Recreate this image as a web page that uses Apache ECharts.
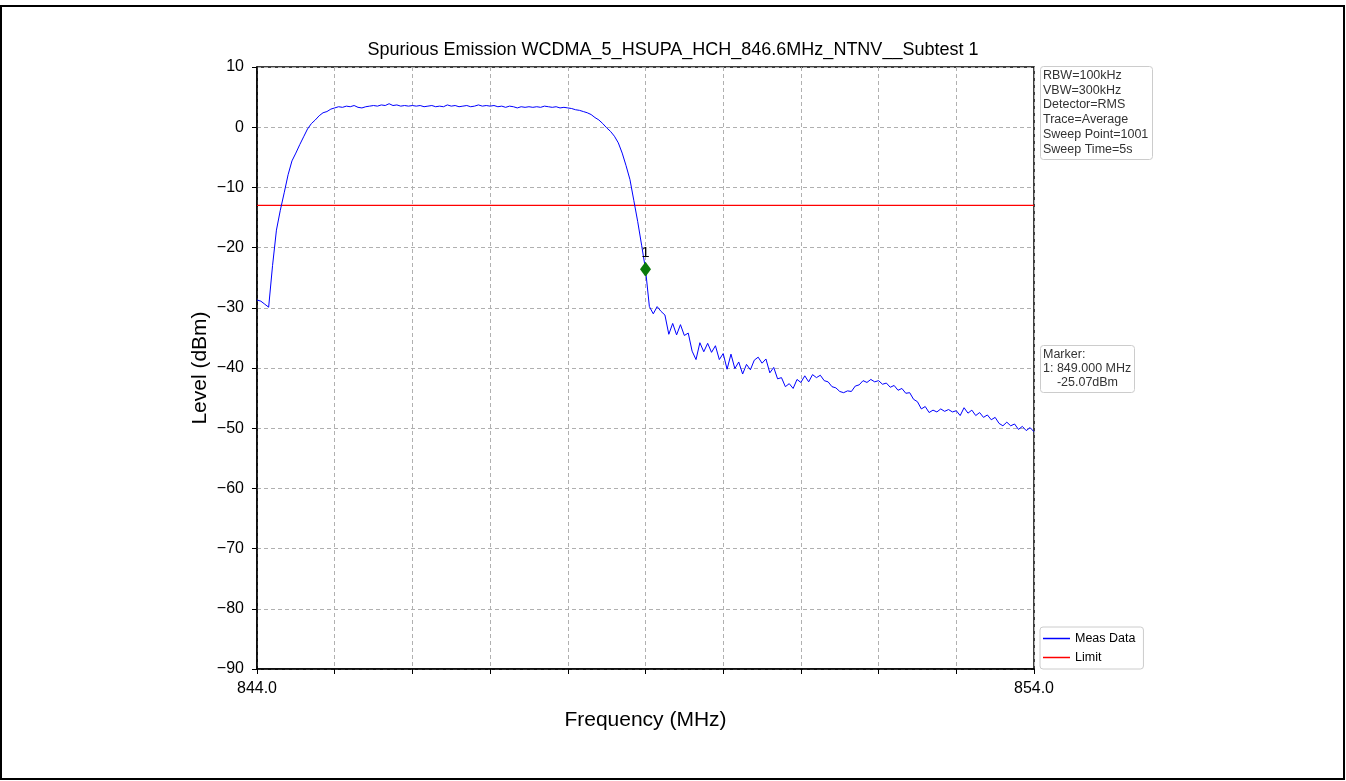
<!DOCTYPE html>
<html>
<head>
<meta charset="utf-8">
<script src="https://cdn.jsdelivr.net/npm/echarts@6/dist/echarts.min.js"></script>
<style>
html,body{margin:0;padding:0;background:#fff;}
#chart{width:1346px;height:781px;}
</style>
</head>
<body>
<div id="chart"></div>
<script>
// ---- data ----
const chartTitle = 'Spurious Emission WCDMA_5_HSUPA_HCH_846.6MHz_NTNV__Subtest 1';
const sweepStart = 844.0;   // MHz
const sweepStep = 0.05;     // MHz between read points
const measLevels = [
 -28.7,-28.9,-29.4,-29.9,-23.0,-17.1,-13.8,-10.9,-7.9,-5.6,
 -4.3,-2.9,-1.6,-0.3,0.6,1.2,1.9,2.4,2.6,3.0,
 3.2,3.4,3.3,3.5,3.4,3.6,3.3,3.2,3.4,3.5,
 3.6,3.5,3.7,3.6,3.9,3.6,3.7,3.5,3.6,3.5,
 3.6,3.5,3.6,3.4,3.5,3.6,3.4,3.5,3.4,3.7,
 3.5,3.6,3.4,3.5,3.6,3.4,3.5,3.7,3.5,3.6,
 3.5,3.6,3.4,3.5,3.3,3.5,3.4,3.2,3.4,3.3,
 3.4,3.3,3.4,3.3,3.5,3.4,3.3,3.4,3.2,3.3,
 3.2,3.1,2.9,2.8,2.6,2.4,2.1,1.6,1.2,0.6,
 -0.1,-0.7,-1.5,-2.6,-4.3,-6.4,-8.7,-12.2,-15.7,-19.6,
 -23.6,
 -29.8,-31.0,-29.8,-30.6,-31.2,-34.4,-32.6,-34.5,-32.8,-34.6,
 -34.2,-37.2,-38.6,-35.8,-37.3,-35.9,-37.4,-36.3,-38.6,-37.6,
 -40.2,-37.7,-40.1,-39.0,-41.0,-39.4,-40.3,-38.7,-38.2,-39.2,
 -38.5,-40.8,-39.9,-41.8,-41.6,-43.1,-42.6,-43.4,-41.9,-42.4,
 -41.3,-42.3,-41.1,-41.6,-41.2,-42.1,-42.3,-43.1,-43.3,-43.9,
 -44.1,-43.8,-43.9,-43.0,-42.8,-42.1,-42.4,-41.9,-42.3,-42.1,
 -42.7,-42.5,-43.2,-42.9,-43.7,-43.4,-44.2,-44.1,-45.2,-45.6,
 -46.8,-46.4,-47.4,-47.0,-47.3,-46.8,-47.2,-46.9,-47.3,-47.1,
 -47.9,-46.6,-47.5,-47.0,-47.9,-47.4,-48.2,-47.8,-48.6,-48.2,
 -49.2,-49.6,-49.0,-49.6,-49.3,-50.2,-49.7,-50.4,-49.9,-50.6
];
const limitLevel = -13;
const limitRange = [844.0, 854.0];
const markerFreq = 849.0;
const markerLevel = -23.6;
const markerLabel = '1';
const xTickLabels = {844: '844.0', 854: '854.0'};
const settingsText = ['RBW=100kHz', 'VBW=300kHz', 'Detector=RMS', 'Trace=Average', 'Sweep Point=1001', 'Sweep Time=5s'];
const markerText = ['Marker:', '1: 849.000 MHz', '    -25.07dBm'];
const legendNames = ['Meas Data', 'Limit'];

// ---- build ----
const measData = measLevels.map((v, i) => [+(sweepStart + i * sweepStep).toFixed(3), v]);
const limitData = limitRange.map(f => [f, limitLevel]);
const FONT = 'Liberation Sans, Arial, sans-serif';

const chart = echarts.init(document.getElementById('chart'), null, {renderer: 'canvas'});
chart.setOption({
  animation: false,
  backgroundColor: '#fff',
  title: [
    {text: chartTitle, left: 'center', top: 36, textStyle: {fontFamily: FONT, fontSize: 18, fontWeight: 'normal', color: '#000'}},
    {text: settingsText.join('\n'), left: 1040, top: 66, padding: [2, 4, 3, 3],
     borderColor: '#cccccc', borderWidth: 1, borderRadius: 3, backgroundColor: '#fff',
     textStyle: {fontFamily: FONT, fontSize: 12.5, fontWeight: 'normal', color: '#333', lineHeight: 14.8}},
    {text: markerText.join('\n'), left: 1040, top: 345, padding: [2, 4, 3, 3],
     borderColor: '#cccccc', borderWidth: 1, borderRadius: 3, backgroundColor: '#fff',
     textStyle: {fontFamily: FONT, fontSize: 12.5, fontWeight: 'normal', color: '#333', lineHeight: 14.2}}
  ],
  legend: {
    orient: 'vertical', left: 1040, top: 627,
    data: legendNames, icon: 'rect', itemWidth: 27, itemHeight: 1.5, itemGap: 6,
    padding: [5, 8, 5, 3], borderColor: '#cccccc', borderWidth: 1, borderRadius: 3,
    textStyle: {fontFamily: FONT, fontSize: 12.5, color: '#000'}
  },
  grid: {left: 257, right: 312, top: 67, bottom: 112, show: true, borderColor: '#000', borderWidth: 1.5, backgroundColor: 'transparent'},
  xAxis: {
    type: 'value', min: 844, max: 854, interval: 1,
    name: 'Frequency (MHz)', nameLocation: 'middle', nameGap: 41, nameMoveOverlap: false,
    nameTextStyle: {fontFamily: FONT, fontSize: 21, color: '#000'},
    axisLine: {onZero: false, lineStyle: {color: '#000', width: 1.5}},
    axisTick: {show: true, inside: false, length: 5, lineStyle: {color: '#000', width: 1}},
    axisLabel: {fontFamily: FONT, fontSize: 16, color: '#000', margin: 12,
      formatter: v => (xTickLabels[Math.round(v)] !== undefined ? xTickLabels[Math.round(v)] : '')},
    splitLine: {show: true, lineStyle: {color: '#b0b0b0', type: [4, 3], width: 1}}
  },
  yAxis: {
    type: 'value', min: -90, max: 10, interval: 10,
    name: 'Level (dBm)', nameLocation: 'middle', nameGap: 46, nameMoveOverlap: false,
    nameTextStyle: {fontFamily: FONT, fontSize: 21, color: '#000'},
    axisLine: {onZero: false, lineStyle: {color: '#000', width: 1.5}},
    axisTick: {show: true, inside: false, length: 5, lineStyle: {color: '#000', width: 1}},
    axisLabel: {fontFamily: FONT, fontSize: 16, color: '#000', margin: 13,
      formatter: v => (v < 0 ? '\u2212' + Math.abs(v) : String(v))},
    splitLine: {show: true, lineStyle: {color: '#b0b0b0', type: [4, 3], width: 1}}
  },
  series: [
    {
      name: legendNames[0], type: 'line', data: measData, showSymbol: false, symbol: 'none',
      lineStyle: {color: '#0000ff', width: 1}, itemStyle: {color: '#0000ff'}, z: 3,
      markPoint: {
        symbol: 'diamond', symbolSize: [11, 15], itemStyle: {color: '#0b7a0b'},
        label: {show: true, position: 'top', distance: 1, formatter: markerLabel, color: '#000', fontFamily: FONT, fontSize: 15},
        data: [{coord: [markerFreq, markerLevel]}]
      }
    },
    {
      name: legendNames[1], type: 'line', data: limitData, showSymbol: false, symbol: 'none',
      lineStyle: {color: '#ff0000', width: 1.3}, itemStyle: {color: '#ff0000'}, z: 2
    }
  ],
  graphic: [
    {type: 'rect', shape: {x: 1, y: 6, width: 1343, height: 773}, style: {fill: 'none', stroke: '#000', lineWidth: 2}, silent: true}
  ]
});
</script>
</body>
</html>
